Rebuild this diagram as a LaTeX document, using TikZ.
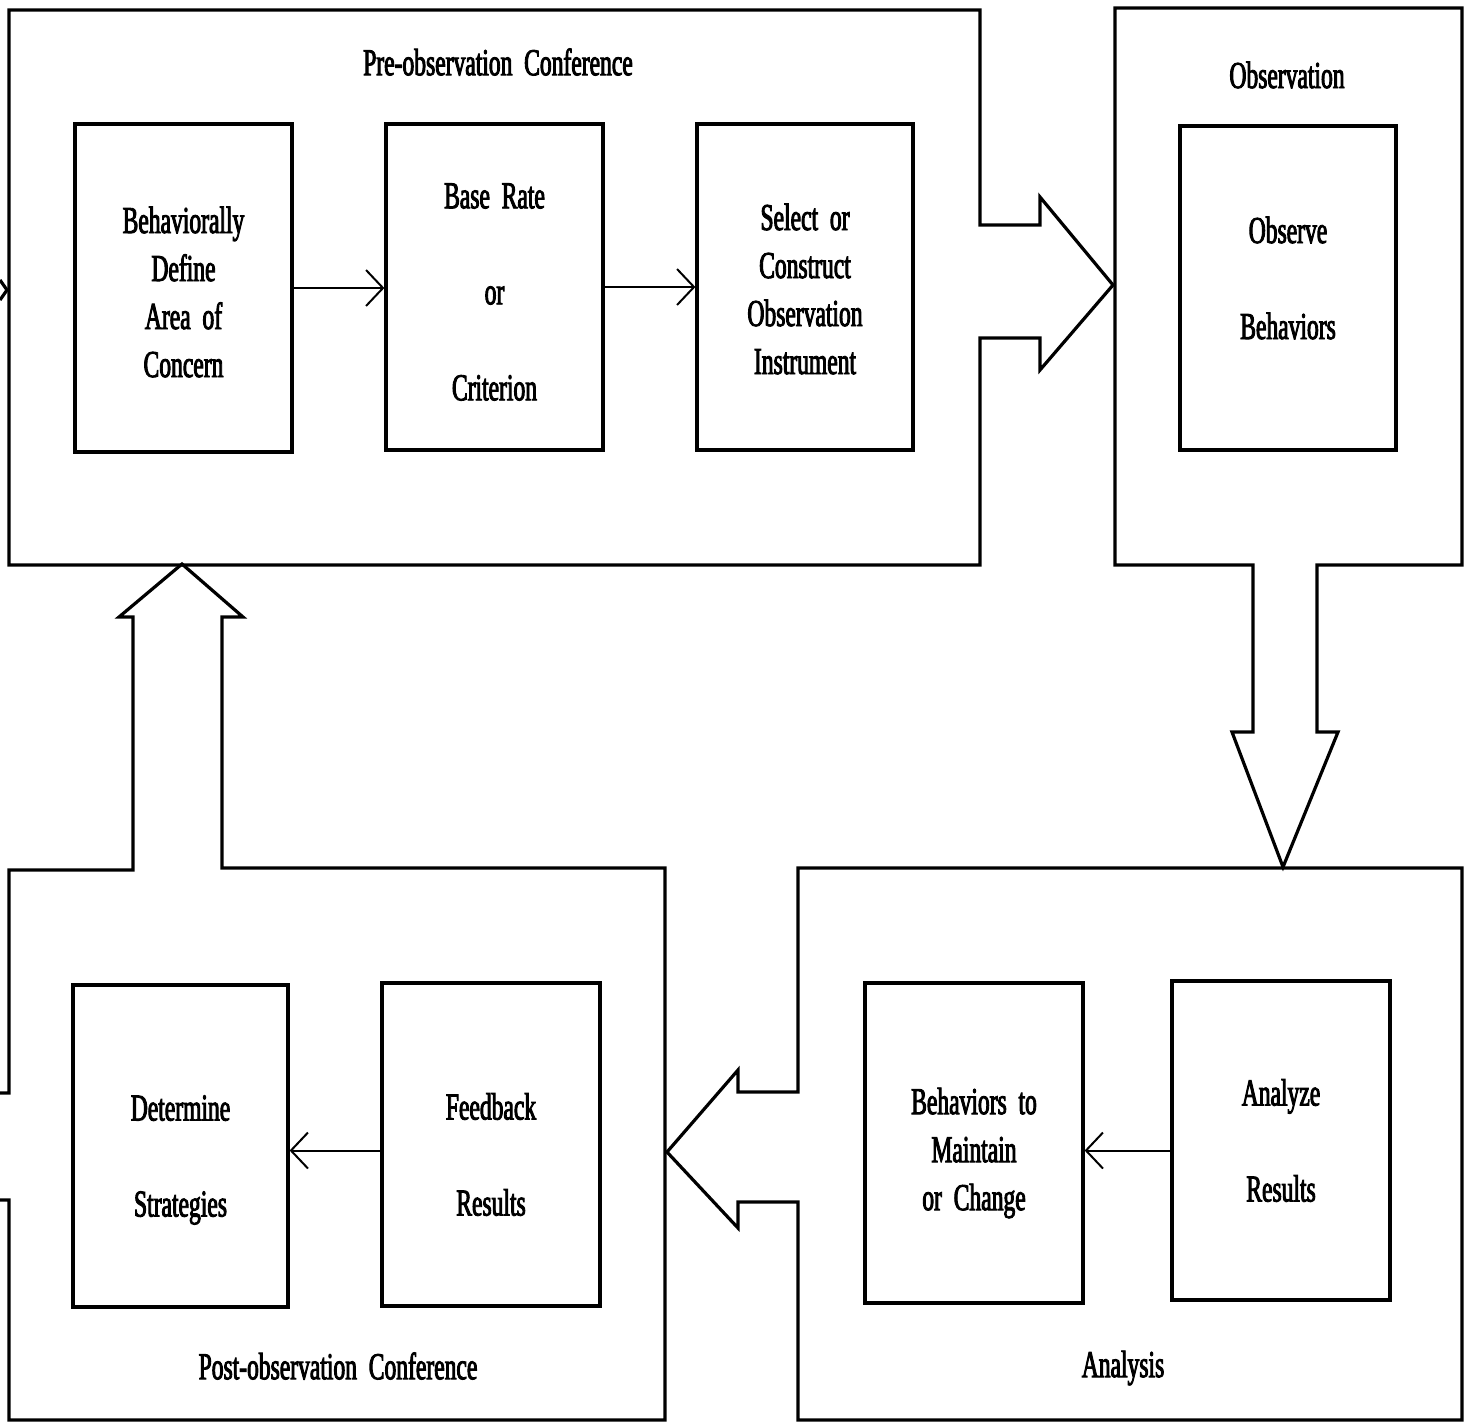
\documentclass[tikz,border=0pt]{standalone}
\usepackage{fontspec}
\setmainfont{Liberation Serif}
\newfontfamily\cond[FakeStretch=0.62,FakeBold=2.4,WordSpace=2]{Liberation Serif}
\usetikzlibrary{arrows.meta}
\begin{document}
\begin{tikzpicture}[x=0.5pt,y=-0.5pt,
  outline/.style={line width=1.6pt, line join=miter},
  inbox/.style={draw, line width=1.6pt, inner sep=0pt},
  intext/.style={align=center, inner sep=0pt, font=\cond\fontsize{19}{24}\selectfont},
  lbl/.style={inner sep=0pt, font=\cond\fontsize{19}{24}\selectfont},
  sa/.style={line width=1pt, -{Straight Barb[length=8.5pt,width=18pt,line width=1pt]}}]
\useasboundingbox[fill=white] (0,0) rectangle (1466,1425);

% ---------- outer regions with block arrows ----------
% Pre-observation conference (with arrow to Observation)
\draw[outline] (980,225) -- (980,10) -- (9,10) -- (9,565) -- (980,565) -- (980,338)
  -- (1040,338) -- (1040,370) -- (1113,285) -- (1040,197) -- (1040,225) -- cycle;
% incoming arrowhead cut at the left edge
\draw[outline] (0,280) -- (7,290) -- (0,300);
% Observation (with arrow to Analysis)
\draw[outline] (1253,565) -- (1115,565) -- (1115,8) -- (1462,8) -- (1462,565) -- (1317,565)
  -- (1317,732) -- (1338,732) -- (1283,867) -- (1232,732) -- (1253,732) -- cycle;
% Analysis (with arrow to Post-observation)
\draw[outline] (798,1092) -- (798,868) -- (1462,868) -- (1462,1420) -- (798,1420) -- (798,1202)
  -- (738,1202) -- (738,1228) -- (667,1152) -- (738,1070) -- (738,1092) -- cycle;
% Post-observation conference (with arrow up to Pre-observation, exit at left)
\draw[outline] (0,1093) -- (9,1093) -- (9,870) -- (133,870) -- (133,617) -- (119,617)
  -- (182,564) -- (243,617) -- (222,617) -- (222,868) -- (665,868) -- (665,1420)
  -- (9,1420) -- (9,1200) -- (0,1200);

% ---------- region titles ----------
\node[lbl] (tpre)  at (498,62)   {Pre-observation Conference};
\node[lbl] (tobs)  at (1287,75)  {Observation};
\node[lbl] (tana)  at (1123,1368) {Analysis};
\node[lbl] (tpost) at (338,1366) {Post-observation Conference};

% ---------- inner boxes ----------
\node[inbox, minimum width=108.5pt, minimum height=164pt] (b1) at (183.5,288) {};
\node[inbox, minimum width=108.5pt, minimum height=163pt] (b2) at (494.5,287) {};
\node[inbox, minimum width=108pt, minimum height=163pt]   (b3) at (805,287) {};
\node[inbox, minimum width=108pt, minimum height=162pt]   (b4) at (1288,288) {};
\node[inbox, minimum width=109pt, minimum height=160pt]   (b5) at (974,1143) {};
\node[inbox, minimum width=109pt, minimum height=159.5pt] (b6) at (1281,1140.5) {};
\node[inbox, minimum width=109pt, minimum height=161.5pt] (b7) at (491,1144.5) {};
\node[inbox, minimum width=107.5pt, minimum height=161pt] (b8) at (180.5,1146) {};

% ---------- texts of the inner boxes ----------
\node[intext] (b1t) at ([yshift=-2pt]b1.center) {Behaviorally\\Define\\Area of\\Concern};
\node[intext] (b2t) at ([yshift=-2.5pt]b2.center) {Base Rate\\[24pt]or\\[24pt]Criterion};
\node[intext] (b3t) at ([yshift=-1pt]b3.center) {Select or\\Construct\\Observation\\Instrument};
\node[intext] (b4t) at ([yshift=5pt]b4.center) {Observe\\[24pt]Behaviors};
\node[intext] (b5t) at ([yshift=-5pt]b5.center) {Behaviors to\\Maintain\\or Change};
\node[intext] (b6t) at ([yshift=0pt]b6.center) {Analyze\\[24pt]Results};
\node[intext] (b7t) at ([yshift=-5pt]b7.center) {Feedback\\[24pt]Results};
\node[intext] (b8t) at ([yshift=-7pt]b8.center) {Determine\\[24pt]Strategies};

% ---------- small arrows ----------
\draw[sa] (b1.east) -- (b1.east -| b2.west);
\draw[sa] (b2.east) -- (b2.east -| b3.west);
\draw[sa] ([yshift=-5pt]b6.west) -- ([yshift=-5pt]b6.west -| b5.east);
\draw[sa] ([yshift=-3pt]b7.west) -- ([yshift=-3pt]b7.west -| b8.east);
\end{tikzpicture}
\end{document}
